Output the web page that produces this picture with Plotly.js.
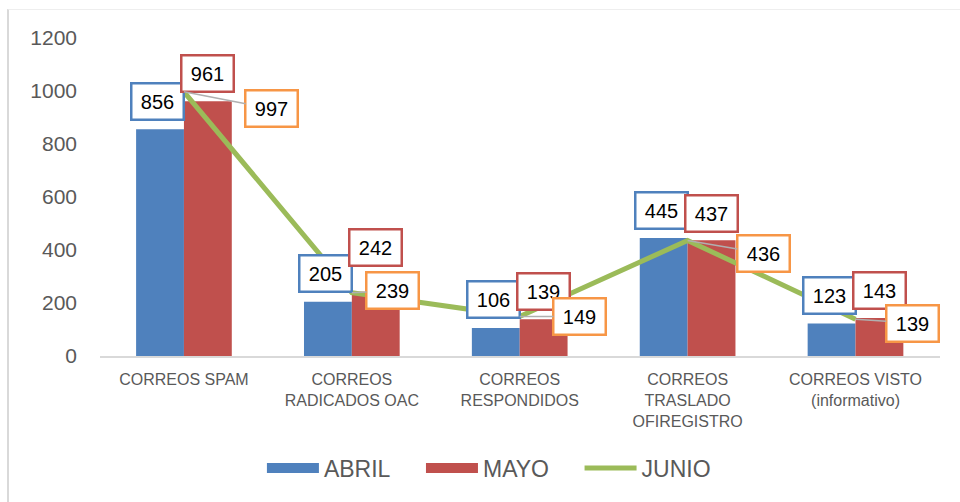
<!DOCTYPE html>
<html>
<head>
<meta charset="utf-8">
<script src="https://cdn.plot.ly/plotly-3.0.1.min.js"></script>
<style>
  body { margin: 0; background: #fff; }
  #wrap { position: relative; width: 960px; height: 502px; }
  #chart { width: 960px; height: 502px; }
  #frame { position: absolute; left: 7px; top: 9px; right: 0; bottom: 0;
           border-left: 2px solid #d9d9d9; border-top: 1px solid #eeeeee; pointer-events: none; }
</style>
</head>
<body>
<div id="wrap">
  <div id="chart"></div>
  <div id="frame"></div>
</div>
<script>
// --- data ---
const categories = [
    "CORREOS SPAM",
    "CORREOS<br>RADICADOS OAC",
    "CORREOS<br>RESPONDIDOS",
    "CORREOS<br>TRASLADO<br>OFIREGISTRO",
    "CORREOS VISTO<br>(informativo)",
];
const abril = [856, 205, 106, 445, 123];
const mayo = [961, 242, 139, 437, 143];
const junio = [997, 239, 149, 436, 139];

// colours
const cBlue = "#4f81bd";
const cRed = "#c0504d";
const cGreen = "#9bbb59";
const cOrange = "#f79646";
const cText = "#595959";

// label placement (px offsets of the data label boxes)
const mayoLift = [28, 44, 28, 27, 28];
const junioOffset = [[88, 17], [41, -2], [60, 0], [76, 13], [57, 4]];

// spacer so legend items sit further apart
const pad = "\u00a0\u00a0\u00a0\u00a0";

// --- traces ---
const traces = [
    {
        type: "bar", x: categories, y: abril, name: "ABRIL",
        marker: { color: cBlue }, showlegend: false, hoverinfo: "y",
    },
    {
        type: "bar", x: categories, y: mayo, name: "MAYO",
        marker: { color: cRed }, showlegend: false, hoverinfo: "y",
    },
    // legend-only entries so the swatches look like wide bars
    {
        type: "scatter", mode: "lines", x: [categories[0]], y: [null], name: "ABRIL" + pad,
        line: { color: cBlue, width: 12 }, hoverinfo: "skip",
    },
    {
        type: "scatter", mode: "lines", x: [categories[0]], y: [null], name: "MAYO" + pad,
        line: { color: cRed, width: 12 }, hoverinfo: "skip",
    },
    {
        type: "scatter", mode: "lines", x: categories, y: junio, name: "JUNIO",
        line: { color: cGreen, width: 5 }, hoverinfo: "y",
    },
];

// --- data labels ---
const boxFont = { family: "Liberation Sans, Arial, sans-serif", size: 20, color: "#000" };
const annotations = [];
categories.forEach((cat, i) => {
    annotations.push({
        x: cat, y: abril[i], text: String(abril[i]), showarrow: false,
        xshift: -26, yshift: 28, xanchor: "center", yanchor: "middle",
        font: boxFont, bgcolor: "#fff", bordercolor: cBlue, borderwidth: 2.5,
        borderpad: 4, width: 42, height: 26,
    });
    annotations.push({
        x: cat, y: mayo[i], text: String(mayo[i]), showarrow: false,
        xshift: 24, yshift: mayoLift[i], xanchor: "center", yanchor: "middle",
        font: boxFont, bgcolor: "#fff", bordercolor: cRed, borderwidth: 2.5,
        borderpad: 4, width: 42, height: 26,
    });
    annotations.push({
        x: cat, y: junio[i], text: String(junio[i]), showarrow: true,
        ax: junioOffset[i][0], ay: junioOffset[i][1], arrowhead: 0,
        arrowcolor: "#b0b0b0", arrowwidth: 1.5, xanchor: "center", yanchor: "middle",
        font: boxFont, bgcolor: "#fff", bordercolor: cOrange, borderwidth: 2.5,
        borderpad: 4, width: 42, height: 26,
    });
});

const layout = {
    width: 960,
    height: 502,
    margin: { l: 100, r: 20, t: 38, b: 146 },
    paper_bgcolor: "#fff",
    plot_bgcolor: "#fff",
    font: { family: "Liberation Sans, Arial, sans-serif", color: cText },
    barmode: "group",
    bargap: 0.43,
    bargroupgap: 0,
    showlegend: true,
    legend: {
        orientation: "h", x: 0.463, xanchor: "center", y: -0.352, yanchor: "middle",
        font: { size: 23, color: cText }, itemwidth: 52, traceorder: "normal",
    },
    xaxis: {
        type: "category",
        showgrid: false,
        showline: true, linecolor: "#d9d9d9", linewidth: 2,
        ticks: "",
        ticklabelstandoff: 8,
        tickfont: { size: 16, color: cText },
        tickangle: 0,
    },
    yaxis: {
        range: [0, 1200],
        dtick: 200,
        showgrid: false,
        zeroline: false,
        showline: false,
        ticks: "",
        ticklabelstandoff: 22,
        tickfont: { size: 21, color: cText },
    },
    annotations: annotations,
};

Plotly.newPlot("chart", traces, layout, { displayModeBar: false, staticPlot: true });
</script>
</body>
</html>
